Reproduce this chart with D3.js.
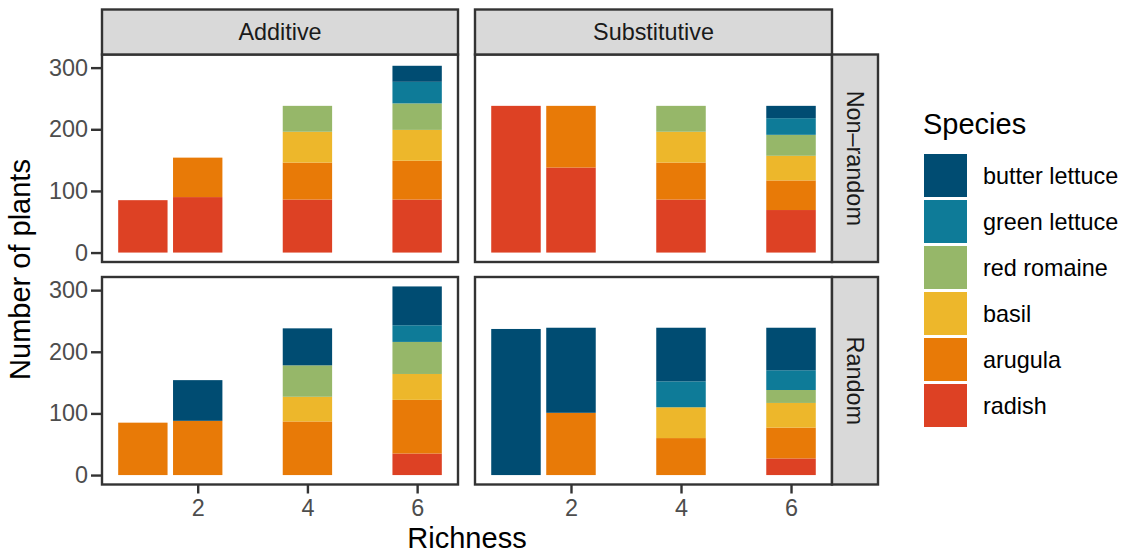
<!DOCTYPE html>
<html>
<head>
<meta charset="utf-8">
<script src="https://cdn.jsdelivr.net/npm/d3@7"></script>
<style>
  html, body { margin: 0; padding: 0; background: #fff; }
  svg { display: block; font-family: "Liberation Sans", Arial, Helvetica, sans-serif; }
</style>
</head>
<body>
<svg id="chart" width="1128" height="556"></svg>
<script>
// Stacking order, bottom to top
const species = ["radish", "arugula", "basil", "red romaine", "green lettuce", "butter lettuce"];
const speciesColors = ["#DD4124", "#E87A07", "#EDB72B", "#96B769", "#0E7B98", "#004C72"];
const richness = [1, 2, 4, 6];
const designs = ["Additive", "Substitutive"];
const selections = ["Non\u2013random", "Random"];
const xTicks = [2, 4, 6];
const yTicks = [0, 100, 200, 300];

// Plants of each species (columns follow `species`) at each richness level (rows follow `richness`)
const additiveNonRandom = [
  [85, 0, 0, 0, 0, 0],
  [90, 64, 0, 0, 0, 0],
  [86, 60, 50, 42, 0, 0],
  [86, 63, 50, 43, 35, 26]
];
const substitutiveNonRandom = [
  [238, 0, 0, 0, 0, 0],
  [138, 100, 0, 0, 0, 0],
  [86, 60, 50, 42, 0, 0],
  [69, 48, 40, 34, 27, 20]
];
const additiveRandom = [
  [0, 85, 0, 0, 0, 0],
  [0, 88, 0, 0, 0, 66],
  [0, 87, 40, 51, 0, 60],
  [35, 87, 42, 52, 27, 63]
];
const substitutiveRandom = [
  [0, 0, 0, 0, 0, 237],
  [0, 101, 0, 0, 0, 138],
  [0, 60, 50, 0, 42, 87],
  [27, 50, 40, 21, 32, 69]
];

const panels = [
  { row: 0, col: 0, values: additiveNonRandom },
  { row: 0, col: 1, values: substitutiveNonRandom },
  { row: 1, col: 0, values: additiveRandom },
  { row: 1, col: 1, values: substitutiveRandom }
];

const svg = d3.select("#chart");
const colX = [[102, 458], [475, 832]];
const rowY = [[54.5, 262], [277, 484.5]];
const barWidth = 0.9;

const color = d3.scaleOrdinal().domain(species).range(speciesColors);
const stack = d3.stack().keys(d3.range(species.length));

// shared y extent: max stacked total with 5% padding each side
const yMax = d3.max(panels, p => d3.max(p.values, r => d3.sum(r)));
const xLo = d3.min(richness) - barWidth / 2, xHi = d3.max(richness) + barWidth / 2;
const xPad = (xHi - xLo) * 0.05;

panels.forEach(p => {
  const [x0, x1] = colX[p.col];
  const [y0, y1] = rowY[p.row];
  const x = d3.scaleLinear().domain([xLo - xPad, xHi + xPad]).range([x0, x1]);
  const y = d3.scaleLinear().domain([-0.05 * yMax, 1.05 * yMax]).range([y1, y0]);

  const g = svg.append("g");
  g.append("rect").attr("x", x0).attr("y", y0).attr("width", x1 - x0).attr("height", y1 - y0)
    .attr("fill", "#fff");

  const layers = stack(p.values);
  layers.forEach((layer, k) => {
    g.selectAll(null).data(layer.map((d, i) => ({ d, r: richness[i] })))
      .enter().filter(o => o.d[1] - o.d[0] > 0)
      .append("rect")
      .attr("x", o => x(o.r - barWidth / 2))
      .attr("width", o => x(o.r + barWidth / 2) - x(o.r - barWidth / 2))
      .attr("y", o => y(o.d[1]))
      .attr("height", o => y(o.d[0]) - y(o.d[1]))
      .attr("fill", color(species[k]));
  });

  g.append("rect").attr("x", x0).attr("y", y0).attr("width", x1 - x0).attr("height", y1 - y0)
    .attr("fill", "none").attr("stroke", "#333333").attr("stroke-width", 2.4);

  if (p.col === 0) {
    const ax = svg.append("g").attr("transform", `translate(${x0},0)`)
      .call(d3.axisLeft(y).tickValues(yTicks).tickFormat(d3.format("d")).tickSize(11).tickPadding(3));
    ax.select(".domain").remove();
    ax.selectAll(".tick line").attr("stroke", "#333333").attr("stroke-width", 2.4);
    ax.selectAll(".tick text").attr("fill", "#4D4D4D").style("font-size", "23.4px")
      .attr("font-family", null);
  }
  if (p.row === 1) {
    const ax = svg.append("g").attr("transform", `translate(0,${y1})`)
      .call(d3.axisBottom(x).tickValues(xTicks).tickFormat(d3.format("d")).tickSize(9).tickPadding(6));
    ax.select(".domain").remove();
    ax.selectAll(".tick line").attr("stroke", "#333333").attr("stroke-width", 2.4);
    ax.selectAll(".tick text").attr("fill", "#4D4D4D").style("font-size", "23.4px")
      .attr("font-family", null);
  }
});

// column strips
designs.forEach((name, c) => {
  const [x0, x1] = colX[c];
  const sy0 = 9.5, sy1 = rowY[0][0];
  svg.append("rect").attr("x", x0).attr("y", sy0).attr("width", x1 - x0).attr("height", sy1 - sy0)
    .attr("fill", "#D9D9D9").attr("stroke", "#333333").attr("stroke-width", 2.4);
  svg.append("text").attr("x", (x0 + x1) / 2).attr("y", (sy0 + sy1) / 2).attr("dy", "0.35em")
    .attr("text-anchor", "middle").attr("fill", "#1A1A1A").style("font-size", "23.4px").text(name);
});

// row strips
selections.forEach((name, r) => {
  const [y0, y1] = rowY[r];
  const sx0 = colX[1][1], sx1 = 878;
  svg.append("rect").attr("x", sx0).attr("y", y0).attr("width", sx1 - sx0).attr("height", y1 - y0)
    .attr("fill", "#D9D9D9").attr("stroke", "#333333").attr("stroke-width", 2.4);
  svg.append("text")
    .attr("transform", `translate(${(sx0 + sx1) / 2},${(y0 + y1) / 2}) rotate(90)`)
    .attr("dy", "0.35em").attr("text-anchor", "middle").attr("fill", "#1A1A1A")
    .style("font-size", "23.4px").text(name);
});

// axis titles
svg.append("text").attr("x", (colX[0][0] + colX[1][1]) / 2).attr("y", 548)
  .attr("text-anchor", "middle").attr("fill", "#000").style("font-size", "29px").text("Richness");
svg.append("text")
  .attr("transform", `translate(29.5,${(rowY[0][0] + rowY[1][1]) / 2}) rotate(-90)`)
  .attr("text-anchor", "middle").attr("fill", "#000").style("font-size", "29px").text("Number of plants");

// legend (top entry is the top of the stack)
const legend = svg.append("g");
legend.append("text").attr("x", 923).attr("y", 134).attr("fill", "#000")
  .style("font-size", "29px").text("Species");
const legendOrder = species.slice().reverse();
legendOrder.forEach((s, i) => {
  const ky = 154 + i * 46;
  legend.append("rect").attr("x", 924).attr("y", ky).attr("width", 43).attr("height", 43)
    .attr("fill", color(s));
  legend.append("text").attr("x", 983).attr("y", ky + 21.5).attr("dy", "0.35em")
    .attr("fill", "#000").style("font-size", "23.4px").text(s);
});
</script>
</body>
</html>
